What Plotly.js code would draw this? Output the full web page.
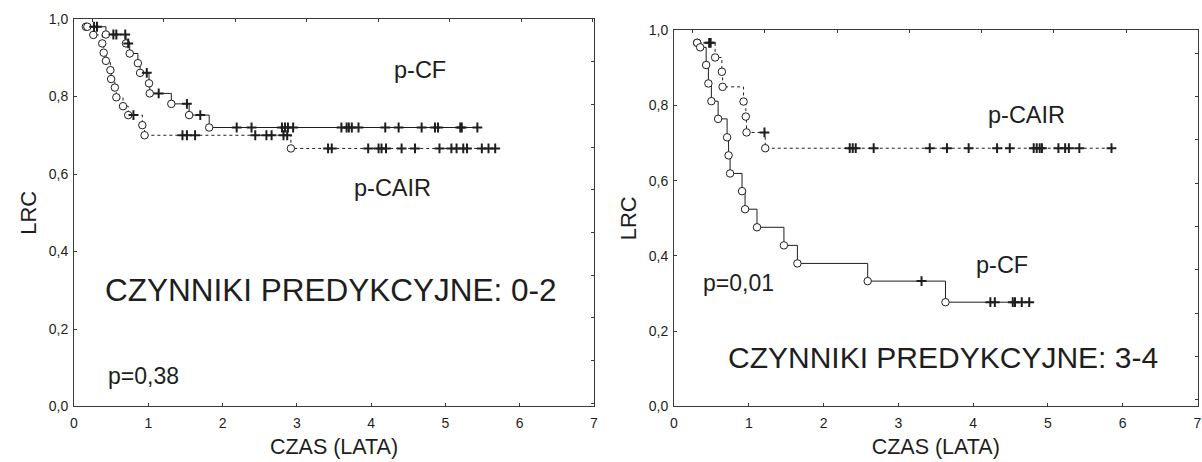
<!DOCTYPE html>
<html>
<head>
<meta charset="utf-8">
<script src="https://cdn.plot.ly/plotly-3.0.1.min.js"></script>
<style>html,body{margin:0;padding:0;background:#fff;}#chart{width:1202px;height:462px;}</style>
</head>
<body>
<div id="chart"></div>
<script>
// ---- data: left panel (CZYNNIKI PREDYKCYJNE: 0-2) ----
const leftCF_eventTime = [0.18,0.43,0.70,0.75,0.86,0.89,1.01,1.02,1.31,1.55,1.82];
const leftCF_eventSurv = [0.980,0.960,0.937,0.911,0.886,0.861,0.834,0.808,0.781,0.752,0.720];
const leftCF_censTime = [0.27,0.31,0.53,0.57,0.69,0.73,0.98,1.14,1.52,1.70,2.19,2.39,2.80,2.84,2.88,2.95,3.60,3.67,3.70,3.74,3.83,4.19,4.37,4.68,4.86,4.90,5.20,5.22,5.43];

const leftCAIR_eventTime = [0.16,0.26,0.38,0.40,0.43,0.49,0.50,0.55,0.57,0.66,0.73,0.92,0.95,2.92];
const leftCAIR_eventSurv = [0.980,0.959,0.937,0.913,0.892,0.868,0.845,0.823,0.798,0.775,0.752,0.726,0.700,0.666];
const leftCAIR_censTime = [0.80,1.46,1.52,1.63,2.44,2.59,2.66,2.82,2.87,3.42,3.47,3.96,4.10,4.14,4.20,4.41,4.59,4.92,5.08,5.15,5.24,5.29,5.49,5.58,5.67];

// ---- data: right panel (CZYNNIKI PREDYKCYJNE: 3-4) ----
const rightCF_eventTime = [0.31,0.35,0.43,0.46,0.50,0.59,0.71,0.73,0.75,0.91,0.95,1.11,1.47,1.65,2.59,3.63];
const rightCF_eventSurv = [0.966,0.954,0.907,0.858,0.811,0.764,0.715,0.667,0.619,0.572,0.524,0.476,0.428,0.380,0.333,0.277];
const rightCF_censTime = [3.31,4.23,4.29,4.53,4.56,4.65,4.75];

const rightCAIR_eventTime = [0.31,0.55,0.64,0.65,0.93,0.96,0.97,1.22];
const rightCAIR_eventSurv = [0.966,0.927,0.889,0.849,0.810,0.770,0.728,0.686];
const rightCAIR_censTime = [0.47,0.49,1.21,2.35,2.39,2.43,2.67,3.42,3.65,3.94,4.32,4.49,4.81,4.85,4.89,4.92,5.14,5.23,5.28,5.42,5.85];

// ---- labels ----
const xTickVals = [0,1,2,3,4,5,6,7];
const xTickText = ['0','1','2','3','4','5','6','7'];
const yTickVals = [0,0.2,0.4,0.6,0.8,1.0];
const yTickText = ['0,0','0,2','0,4','0,6','0,8','1,0'];
const xTitle = 'CZAS (LATA)';
const yTitle = 'LRC';
const leftLabel = 'CZYNNIKI PREDYKCYJNE: 0-2';
const rightLabel = 'CZYNNIKI PREDYKCYJNE: 3-4';
const leftP = 'p=0,38';
const rightP = 'p=0,01';

const FONT = 'Liberation Sans, Arial, sans-serif';
const INK = '#1e1e1e';

function survAt(times, surv, t) {
  let s = 1;
  for (let i = 0; i < times.length; i++) if (times[i] <= t) s = surv[i];
  return s;
}

function curveTraces(evT, evS, cT, dash, xa, ya, name) {
  const last = cT.length ? Math.max(cT[cT.length-1], evT[evT.length-1]) : evT[evT.length-1];
  const lx = evT.concat([last]);
  const ly = evS.concat([survAt(evT, evS, last)]);
  return [
    {type:'scatter', mode:'lines', x:lx, y:ly, xaxis:xa, yaxis:ya, name:name,
     line:{shape:'hv', color:INK, width:1, dash:dash}, hoverinfo:'skip', showlegend:false},
    {type:'scatter', mode:'markers', x:evT, y:evS, xaxis:xa, yaxis:ya, name:name+' zdarzenia',
     marker:{symbol:'circle', size:7.5, color:'#ffffff', line:{color:INK, width:1}}, showlegend:false},
    {type:'scatter', mode:'markers', x:cT, y:cT.map(t => survAt(evT, evS, t)), xaxis:xa, yaxis:ya,
     name:name+' cenzurowane',
     marker:{symbol:'cross-thin', size:7, color:INK, line:{color:INK, width:2}}, showlegend:false}
  ];
}

const data = []
  .concat(curveTraces(leftCAIR_eventTime, leftCAIR_eventSurv, leftCAIR_censTime, 'dot', 'x', 'y', 'p-CAIR'))
  .concat(curveTraces(leftCF_eventTime, leftCF_eventSurv, leftCF_censTime, 'solid', 'x', 'y', 'p-CF'))
  .concat(curveTraces(rightCAIR_eventTime, rightCAIR_eventSurv, rightCAIR_censTime, 'dot', 'x2', 'y2', 'p-CAIR'))
  .concat(curveTraces(rightCF_eventTime, rightCF_eventSurv, rightCF_censTime, 'solid', 'x2', 'y2', 'p-CF'));

// empty traces so the mirror-tick overlay axes get drawn
data.push({type:'scatter', x:[], y:[], xaxis:'x3', yaxis:'y3', showlegend:false, hoverinfo:'skip'});
data.push({type:'scatter', x:[], y:[], xaxis:'x4', yaxis:'y4', showlegend:false, hoverinfo:'skip'});

function mainX(domain, anchor) {
  return {domain:domain, anchor:anchor, range:[0,7], tickvals:xTickVals, ticktext:xTickText,
    showline:true, mirror:true, linecolor:'#3a3a3a', linewidth:1, ticks:'inside', ticklen:3,
    tickcolor:'#3a3a3a', showgrid:false, zeroline:false, automargin:false,
    ticklabelstandoff:4,
    tickfont:{family:FONT, size:14, color:INK},
    title:{text:xTitle, font:{family:FONT, size:21.5, color:INK}, standoff:8}};
}
function mainY(domain, anchor) {
  return {domain:domain, anchor:anchor, range:[0,1], tickvals:yTickVals, ticktext:yTickText,
    showline:true, mirror:true, linecolor:'#3a3a3a', linewidth:1, ticks:'inside', ticklen:3,
    tickcolor:'#3a3a3a', showgrid:false, zeroline:false, automargin:false,
    ticklabelstandoff:2,
    tickfont:{family:FONT, size:14, color:INK},
    title:{text:yTitle, font:{family:FONT, size:22, color:INK}, standoff:6}};
}
function overlayX(over, anchor, rng) {
  return {overlaying:over, anchor:anchor, side:'top', range:rng, dtick:1, tick0:0,
    showticklabels:false, ticks:'inside', ticklen:3, tickcolor:'#3a3a3a',
    showline:false, showgrid:false, zeroline:false, automargin:false};
}
function overlayY(over, anchor, rng) {
  return {overlaying:over, anchor:anchor, side:'right', range:rng, dtick:1, tick0:0,
    showticklabels:false, ticks:'inside', ticklen:3, tickcolor:'#3a3a3a',
    showline:false, showgrid:false, zeroline:false, automargin:false};
}

function ann(text, x, y, xr, yr, size) {
  return {text:text, x:x, y:y, xref:xr, yref:yr, showarrow:false,
    xanchor:'center', yanchor:'middle', font:{family:FONT, size:size, color:INK}};
}

const layout = {
  width:1202, height:462,
  margin:{l:0, r:0, t:0, b:0},
  paper_bgcolor:'#ffffff', plot_bgcolor:'#ffffff',
  showlegend:false,
  xaxis: mainX([0.06156, 0.49418], 'y'),
  yaxis: mainY([0.12013, 0.95887], 'x'),
  xaxis2: mainX([0.56073, 0.99626], 'y2'),
  yaxis2: mainY([0.12013, 0.93506], 'x2'),
  xaxis3: overlayX('x', 'y3', [-0.256, 7.02]),
  yaxis3: overlayY('y', 'x3', [-0.08, 9.0]),
  xaxis4: overlayX('x2', 'y4', [-0.259, 6.99]),
  yaxis4: overlayY('y2', 'x4', [-0.155, 8.54]),
  annotations: [
    ann('p-CF', 4.66, 0.868, 'x', 'y', 23.5),
    ann('p-CAIR', 4.29, 0.564, 'x', 'y', 23.5),
    ann(leftLabel, 3.46, 0.300, 'x', 'y', 31.5),
    ann(leftP, 0.93, 0.080, 'x', 'y', 23),
    ann('p-CAIR', 4.72, 0.775, 'x2', 'y2', 23.5),
    ann('p-CF', 4.38, 0.376, 'x2', 'y2', 23.5),
    ann(rightP, 0.86, 0.327, 'x2', 'y2', 23),
    ann(rightLabel, 3.60, 0.131, 'x2', 'y2', 30)
  ]
};

Plotly.newPlot('chart', data, layout, {staticPlot:true, displayModeBar:false});
</script>
</body>
</html>
